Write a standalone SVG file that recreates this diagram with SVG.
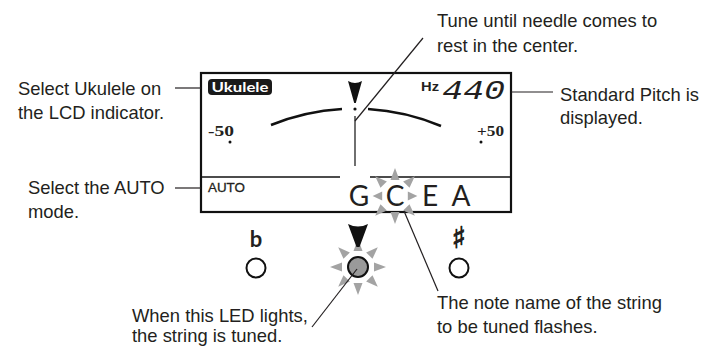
<svg xmlns="http://www.w3.org/2000/svg" xmlns:xlink="http://www.w3.org/1999/xlink" width="702" height="346" viewBox="0 0 702 346">
<style>
.lbl{font-family:"Liberation Sans",Arial,sans-serif;font-size:18.4px;fill:#231f20}
.lead{stroke:#231f20;stroke-width:1.2;fill:none}
.note{font-family:Lato,"Open Sans",sans-serif;font-size:28px;fill:#231f20;text-anchor:middle}
.scale{font-family:"Liberation Serif",serif;font-size:15.5px;font-weight:bold;fill:#231f20}
.ray{fill:#a3a3a3}
</style>
<defs>
<polygon id="ray" points="-4.5,-16 4.5,-16 0,-28"/>
</defs>
<rect width="702" height="346" fill="#fff"/>

<g id="lcd">
<rect x="201" y="73" width="310" height="139" fill="none" stroke="#111" stroke-width="2.2"/>
<line x1="201" y1="177" x2="340" y2="177" stroke="#111" stroke-width="1.5"/>
<line x1="370" y1="177" x2="511" y2="177" stroke="#111" stroke-width="1.5"/>
</g>

<g id="ukulele-badge">
<rect x="208" y="79" width="64" height="16" rx="4" fill="#1a1a1a"/>
<text x="240" y="92" text-anchor="middle" font-family="Lato,'Liberation Sans',sans-serif" font-weight="bold" font-size="14" fill="#fff" textLength="57" lengthAdjust="spacingAndGlyphs">Ukulele</text>
</g>

<g id="pitch">
<text x="421" y="90.5" font-family="'Liberation Sans',Arial,sans-serif" font-weight="bold" font-size="12.5" fill="#231f20" textLength="18" lengthAdjust="spacingAndGlyphs">Hz</text>
<text x="442" y="99" font-family="'Liberation Mono','DejaVu Sans Mono',monospace" font-style="italic" font-size="27" fill="#231f20" textLength="63" lengthAdjust="spacingAndGlyphs">440</text>
</g>

<g id="meter">
<path d="M271,125 A223,223 0 0 1 342,109" fill="none" stroke="#111" stroke-width="2.5"/>
<path d="M368,109 A223,223 0 0 1 441,126" fill="none" stroke="#111" stroke-width="2.5"/>
<path d="M348,81 Q355,85 362,81 L355.8,103 L354.2,103 Z" fill="#111"/>
<circle cx="355" cy="109" r="1.6" fill="#111"/>
<line x1="355" y1="116" x2="355" y2="166" stroke="#333" stroke-width="1.4"/>
<text x="208" y="136" class="scale" textLength="26" lengthAdjust="spacingAndGlyphs">-50</text>
<circle cx="230" cy="142" r="1.5" fill="#111"/>
<text x="477" y="136" class="scale" textLength="27" lengthAdjust="spacingAndGlyphs">+50</text>
<circle cx="481" cy="142" r="1.5" fill="#111"/>
</g>

<g id="auto-mode">
<text x="208" y="192" font-family="'Liberation Sans',Arial,sans-serif" font-size="13.5" fill="#231f20" stroke="#231f20" stroke-width="0.3" textLength="37" lengthAdjust="spacingAndGlyphs">AUTO</text>
</g>

<g id="notes">
<g class="ray" transform="translate(395,196)">
<use xlink:href="#ray" transform="rotate(0)"/>
<use xlink:href="#ray" transform="rotate(45)"/>
<use xlink:href="#ray" transform="rotate(90) scale(1,0.8)"/>
<use xlink:href="#ray" transform="rotate(135)"/>
<use xlink:href="#ray" transform="rotate(180)"/>
<use xlink:href="#ray" transform="rotate(225)"/>
<use xlink:href="#ray" transform="rotate(270) scale(1,0.8)"/>
<use xlink:href="#ray" transform="rotate(315)"/>
</g>
<text x="359" y="206" class="note">G</text>
<text x="395" y="206" class="note">C</text>
<text x="430" y="206" class="note">E</text>
<text x="461" y="206" class="note">A</text>
</g>

<g id="led-flat">
<text x="256" y="247" text-anchor="middle" font-family="Lato,'Open Sans',sans-serif" font-weight="bold" font-size="22" fill="#231f20">b</text>
<circle cx="256" cy="268" r="9.5" fill="#fff" stroke="#111" stroke-width="2"/>
</g>

<g id="led-center">
<g class="ray" transform="translate(358,267)">
<use xlink:href="#ray" transform="rotate(0)"/>
<use xlink:href="#ray" transform="rotate(45)"/>
<use xlink:href="#ray" transform="rotate(90)"/>
<use xlink:href="#ray" transform="rotate(135)"/>
<use xlink:href="#ray" transform="rotate(180)"/>
<use xlink:href="#ray" transform="rotate(225)"/>
<use xlink:href="#ray" transform="rotate(270)"/>
<use xlink:href="#ray" transform="rotate(315)"/>
</g>
<path d="M348,224 Q358,229 368,224 L359.5,247 L356.5,247 Z" fill="#111"/>
<circle cx="358" cy="267" r="10" fill="#9a9a9a" stroke="#111" stroke-width="2"/>
</g>

<g id="led-sharp">
<text x="459" y="248" text-anchor="middle" font-family="'DejaVu Sans',sans-serif" font-weight="bold" font-size="30" fill="#231f20" stroke="#231f20" stroke-width="0.9">♯</text>
<circle cx="459" cy="268" r="9.5" fill="#fff" stroke="#111" stroke-width="2"/>
</g>

<g id="connectors">
<line class="lead" x1="423" y1="38" x2="355" y2="121"/>
<line class="lead" x1="175" y1="88" x2="201" y2="88"/>
<line class="lead" x1="175" y1="188" x2="201" y2="188"/>
<line class="lead" x1="511" y1="92" x2="553" y2="92"/>
<line class="lead" x1="404" y1="211" x2="438" y2="291"/>
<line class="lead" x1="312" y1="327" x2="357" y2="269"/>
</g>

<g id="label-tune">
<text class="lbl" x="437" y="27">Tune until needle comes to</text>
<text class="lbl" x="437" y="52">rest in the center.</text>
</g>
<g id="label-ukulele">
<text class="lbl" x="18" y="95">Select Ukulele on</text>
<text class="lbl" x="18" y="119">the LCD indicator.</text>
</g>
<g id="label-pitch">
<text class="lbl" x="560" y="101">Standard Pitch is</text>
<text class="lbl" x="560" y="124">displayed.</text>
</g>
<g id="label-auto">
<text class="lbl" x="28" y="194">Select the AUTO</text>
<text class="lbl" x="28" y="218">mode.</text>
</g>
<g id="label-led">
<text class="lbl" x="132" y="322">When this LED lights,</text>
<text class="lbl" x="132" y="342">the string is tuned.</text>
</g>
<g id="label-note">
<text class="lbl" x="437" y="309">The note name of the string</text>
<text class="lbl" x="437" y="333">to be tuned flashes.</text>
</g>
</svg>
